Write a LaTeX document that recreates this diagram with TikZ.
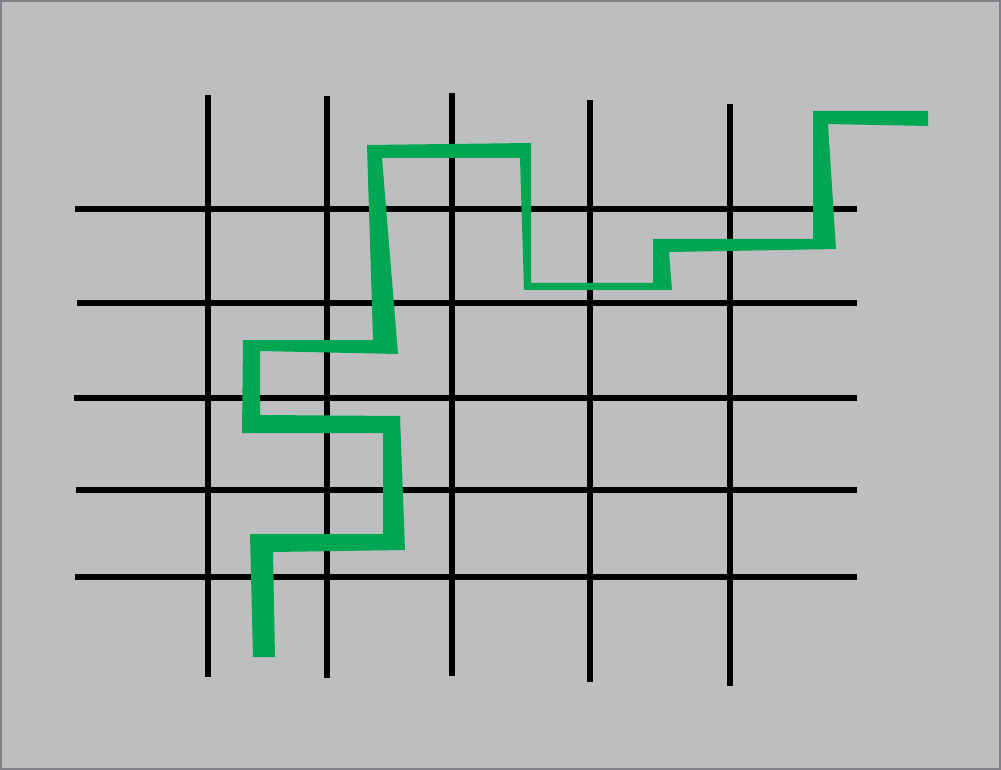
\documentclass[tikz,border=0pt]{standalone}
\usepackage{tikz}
\definecolor{panelgrey}{HTML}{BCBEC0}
\definecolor{frameline}{HTML}{808285}
\definecolor{pathgreen}{HTML}{00A651}
\begin{document}
\begin{tikzpicture}[x=0.5pt, y=-0.5pt,
    panel/.style={fill=panelgrey, draw=frameline, line width=0.6pt},
    gridline/.style={draw=black, line width=2.6pt},
    route/.style={fill=pathgreen, draw=none},
  ]
    \useasboundingbox (0,0) rectangle (1001,770);
    % Hintergrund
    \draw[panel] (1,1) rectangle (1000,769);

    % senkrechte Linien
    \foreach \x/\ya/\yb in {208/95/677, 327/96/678, 452/93/676, 590/100/682, 730/104/686}
      \draw[gridline] (\x,\ya) -- (\x,\yb);
    % waagrechte Linien
    \foreach \y/\xa in {209/75, 303/77, 398/74, 490/76, 577/75}
      \draw[gridline] (\xa,\y) -- (857,\y);

    % gruener Weg
    \fill[route] (253,657) -- (250,534) -- (383,534) -- (383,433) -- (242,433)
      -- (243,340) -- (373,340) -- (367,145) -- (531,143) -- (531,283)
      -- (653,283) -- (653,239) -- (813,239) -- (813,111) -- (928,111)
      -- (928,126) -- (828,124) -- (836,249) -- (669,252) -- (672,290)
      -- (524,290) -- (520,158) -- (382,158) -- (398,354) -- (260,351)
      -- (260,415) -- (400,416) -- (405,550) -- (273,552) -- (275,657) -- cycle;
\end{tikzpicture}
\end{document}
